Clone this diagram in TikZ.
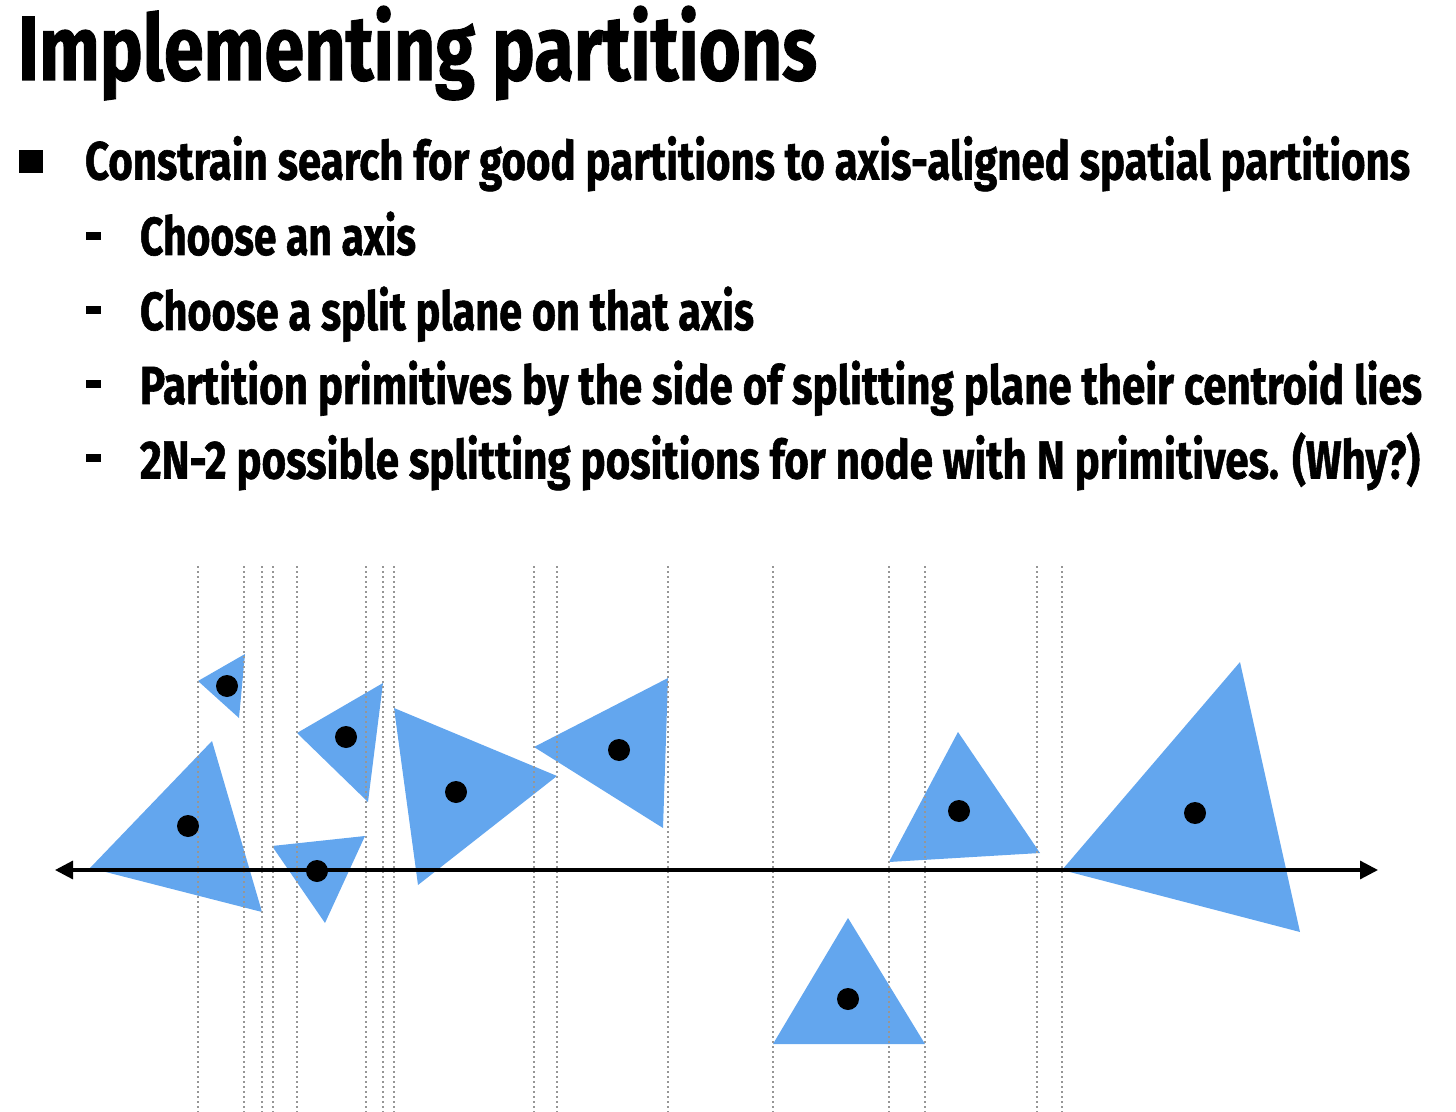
\documentclass[tikz,border=0pt]{standalone}
\usepackage{fontspec}
\setmainfont{Fira Sans}[BoldFeatures={FakeBold=1.2}]
\usepackage{graphicx}
\usetikzlibrary{arrows.meta}
\definecolor{triblue}{RGB}{99,166,238}
\definecolor{splitgray}{RGB}{150,150,150}
\newcommand\fitw[2]{\resizebox{#1}{\height}{#2}}
\begin{document}
\begin{tikzpicture}[x=0.5pt,y=-0.5pt,
  tri/.style={fill=triblue},
  cdot/.style={fill=black},
  splitline/.style={draw=splitgray,line width=1.1pt,dash pattern=on 1.1pt off 1.4pt},
  axisline/.style={draw=black,line width=1.6pt,{Triangle[length=9pt,width=9pt]}-{Triangle[length=9pt,width=9pt]}},
  txt/.style={anchor=base west,inner sep=0pt,outer sep=0pt,font=\bfseries},
  marker/.style={fill=black}]
\useasboundingbox (0,0) rectangle (1456,1112);
% title and bullets
\node[txt,font=\bfseries\fontsize{45.7pt}{50pt}\selectfont] (title) at (18,80) {\fitw{399.5pt}{Implementing partitions}};
\fill[marker] (19,150) rectangle (43,173);
\node[txt,font=\bfseries\fontsize{26.8pt}{30pt}\selectfont] (l1) at (85,179.5) {\fitw{662.5pt}{Constrain search for good partitions to axis-aligned spatial partitions}};
\fill[marker] (86,232) rectangle (101,240);
\node[txt,font=\bfseries\fontsize{26.8pt}{30pt}\selectfont] (l2) at (140,255) {\fitw{138pt}{Choose an axis}};
\fill[marker] (86,306) rectangle (101,314);
\node[txt,font=\bfseries\fontsize{26.8pt}{30pt}\selectfont] (l3) at (140,330) {\fitw{307pt}{Choose a split plane on that axis}};
\fill[marker] (86,380) rectangle (101,388);
\node[txt,font=\bfseries\fontsize{26.8pt}{30pt}\selectfont] (l4) at (140,404) {\fitw{641pt}{Partition primitives by the side of splitting plane their centroid lies}};
\fill[marker] (86,454) rectangle (101,462);
\node[txt,font=\bfseries\fontsize{26.8pt}{30pt}\selectfont] (l5) at (140,478.5) {\fitw{640pt}{2N-2 possible splitting positions for node with N primitives. (Why?)}};
% triangles
\fill[tri] (198,681) -- (245,654) -- (239,718) -- cycle;
\fill[tri] (90,868) -- (212,741) -- (262,912) -- cycle;
\fill[tri] (272,846) -- (365,836) -- (325,923) -- cycle;
\fill[tri] (297,733) -- (383,683) -- (368,802) -- cycle;
\fill[tri] (394,708) -- (557,776) -- (418,885) -- cycle;
\fill[tri] (534,747) -- (668,678) -- (663,828) -- cycle;
\fill[tri] (773,1044) -- (925,1044) -- (848,918) -- cycle;
\fill[tri] (889,862) -- (1040,853) -- (958,732) -- cycle;
\fill[tri] (1062,870) -- (1240,662) -- (1300,932) -- cycle;
% split planes
\foreach \sx in {198,244,262,273,297,366,383,394,534,557,668,773,889,925,1037,1062}
  \draw[splitline] (\sx,566) -- (\sx,1112);
% axis
\coordinate (axL) at (55,870);
\coordinate (axR) at (1378,870);
\draw[axisline] (axL) -- (axR);
% centroids
\foreach \cx/\cy in {227/686,188/826,317/871,346/737,456/792,619/750,848/999,959/811,1195/813}
  \fill[cdot] (\cx,\cy) circle[radius=5.5pt];
\end{tikzpicture}
\end{document}
